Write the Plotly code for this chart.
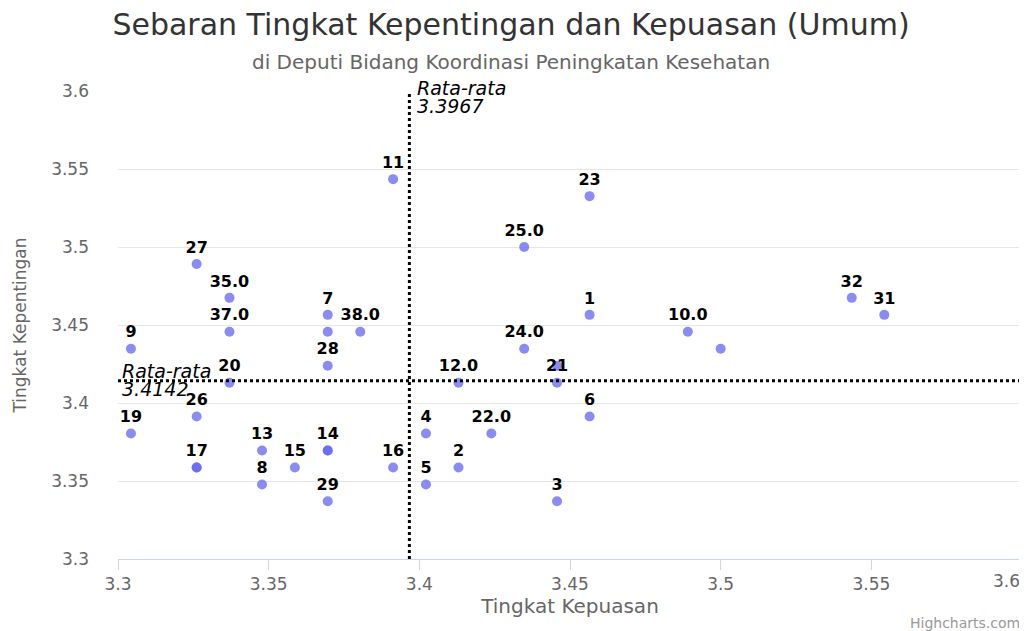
import plotly.graph_objects as go

# Data
labels = ["9", "27", "35.0", "37.0", "7", "", "38.0", "11", "28", "20",
          "26", "19", "17", "17b", "13", "15", "14", "14b", "8", "29",
          "16", "4", "5", "2", "12.0", "22.0", "3", "21", "", "6",
          "24.0", "25.0", "23", "1", "10.0", "", "32", "31"]
kepuasan = [3.3043, 3.3261, 3.3370, 3.3370, 3.3696, 3.3696, 3.3804, 3.3913, 3.3696, 3.3370,
            3.3261, 3.3043, 3.3261, 3.3261, 3.3478, 3.3587, 3.3696, 3.3696, 3.3478, 3.3696,
            3.3913, 3.4022, 3.4022, 3.4130, 3.4130, 3.4239, 3.4457, 3.4457, 3.4457, 3.4565,
            3.4348, 3.4348, 3.4565, 3.4565, 3.4891, 3.5000, 3.5435, 3.5543]
kepentingan = [3.4348, 3.4891, 3.4674, 3.4457, 3.4565, 3.4457, 3.4457, 3.5435, 3.4239, 3.4130,
               3.3913, 3.3804, 3.3587, 3.3587, 3.3696, 3.3587, 3.3696, 3.3696, 3.3478, 3.3370,
               3.3587, 3.3804, 3.3478, 3.3587, 3.4130, 3.3804, 3.3370, 3.4130, 3.4239, 3.3913,
               3.4348, 3.5000, 3.5326, 3.4565, 3.4457, 3.4348, 3.4674, 3.4565]
avg_kepuasan = 3.3967
avg_kepentingan = 3.4142
tick_vals = [3.3, 3.35, 3.4, 3.45, 3.5, 3.55, 3.6]
tick_text = ["3.3", "3.35", "3.4", "3.45", "3.5", "3.55", "3.6"]

shown = [("" if l.endswith("b") else l) for l in labels]

FONT = "DejaVu Sans"
# the page body adds an 8px offset; the figure is sized so that it fits the window
W, H = 1019, 623

fig = go.Figure()
fig.add_trace(go.Scatter(
    x=kepuasan, y=kepentingan, mode="markers+text",
    text=shown, textposition="top center",
    textfont=dict(family=FONT, size=16, color="black", weight="bold"),
    marker=dict(size=10, color="rgba(100,100,240,0.75)", line=dict(width=0)),
    hoverinfo="x+y", showlegend=False, cliponaxis=False,
))

fig.add_shape(type="line", x0=avg_kepuasan, x1=avg_kepuasan, y0=0, y1=1,
              xref="x", yref="paper", line=dict(color="black", width=3, dash="dot"))
fig.add_shape(type="line", x0=0, x1=1, y0=avg_kepentingan, y1=avg_kepentingan,
              xref="paper", yref="y", line=dict(color="black", width=3, dash="dot"))

lab_font = dict(family=FONT, size=19, color="black", style="italic")
fig.add_annotation(x=avg_kepuasan, y=1, xref="x", yref="paper", text="Rata-rata",
                   showarrow=False, xanchor="left", yanchor="middle", xshift=6, yshift=3,
                   font=lab_font)
fig.add_annotation(x=avg_kepuasan, y=1, xref="x", yref="paper", text=f"{avg_kepuasan:.4f}",
                   showarrow=False, xanchor="left", yanchor="middle", xshift=6, yshift=-15,
                   font=lab_font)
fig.add_annotation(x=0, y=avg_kepentingan, xref="paper", yref="y", text="Rata-rata",
                   showarrow=False, xanchor="left", yanchor="middle", xshift=2, yshift=10,
                   font=lab_font)
fig.add_annotation(x=0, y=avg_kepentingan, xref="paper", yref="y", text=f"{avg_kepentingan:.4f}",
                   showarrow=False, xanchor="left", yanchor="middle", xshift=2, yshift=-8,
                   font=lab_font)

# subtitle
fig.add_annotation(x=0.4347, y=1, xref="paper", yref="paper",
                   text="di Deputi Bidang Koordinasi Peningkatan Kesehatan",
                   showarrow=False, xanchor="center", yanchor="middle", yshift=29,
                   font=dict(family=FONT, size=20, color="#666666"))
# last x tick label kept inside the plot edge
fig.add_annotation(x=1, y=0, xref="paper", yref="paper", text=tick_text[-1],
                   showarrow=False, xanchor="right", yanchor="middle", yshift=-22,
                   font=dict(family=FONT, size=17, color="#666666"))
# credits
fig.add_annotation(x=1, y=0, xref="paper", yref="paper", text="Highcharts.com",
                   showarrow=False, xanchor="right", yanchor="middle", yshift=-64,
                   font=dict(family=FONT, size=14, color="#999999"))

fig.update_layout(
    width=W, height=H,
    paper_bgcolor="white", plot_bgcolor="white",
    margin=dict(l=110, r=5, t=83, b=72, autoexpand=False),
    title=dict(text="Sebaran Tingkat Kepentingan dan Kepuasan (Umum)",
               x=503 / W, xanchor="center", y=1 - 16 / H, yanchor="middle",
               font=dict(family=FONT, size=30, color="#333333")),
    xaxis=dict(range=[3.3, 3.6], tickvals=tick_vals, ticktext=tick_text[:-1] + [""],
               automargin=False,
               showgrid=False, zeroline=False, showline=True, linecolor="#ccd6eb", linewidth=1,
               ticks="outside", ticklen=10, tickcolor="#ccd6eb",
               tickfont=dict(family=FONT, size=17, color="#666666"),
               title=dict(text="Tingkat Kepuasan", standoff=0,
                          font=dict(family=FONT, size=20, color="#666666"))),
    yaxis=dict(range=[3.3, 3.6], tickvals=tick_vals, ticktext=tick_text,
               automargin=False,
               showgrid=True, gridcolor="#e6e6e6", zeroline=False, showline=False,
               ticks="", ticklabelstandoff=28,
               tickfont=dict(family=FONT, size=17, color="#666666"),
               title=dict(text="Tingkat Kepentingan", standoff=20,
                          font=dict(family=FONT, size=17, color="#666666"))),
)

fig.write_html("out.html")
